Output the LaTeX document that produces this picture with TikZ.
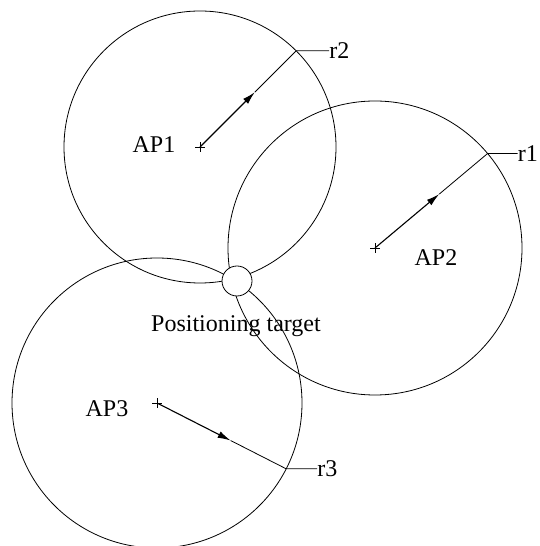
\documentclass[tikz,border=0pt]{standalone}
\usepackage{fontspec}
\setmainfont{Liberation Serif}
\usetikzlibrary{calc,arrows.meta}

\begin{document}
\begin{tikzpicture}
    [x=1pt, y=1pt,
    every node/.style={font=\fontsize{24}{28}\selectfont},
    range/.style={circle, draw, line width=0.8pt, minimum size=#1, inner sep=0pt, outer sep=0pt},
    radius arrow/.style={line width=1.1pt, -{Latex[length=13pt,width=7pt]}},
    radius line/.style={line width=0.8pt},
    label text/.style={inner sep=0pt, anchor=west}
    ]
    \useasboundingbox (0,0) rectangle (539,546);

    % access points
    \coordinate (ap1) at (200,399);
    \coordinate (ap2) at (375,298);
    \coordinate (ap3) at (157,143);

    \node[range=272pt] (c1) at (ap1) {};
    \node[range=294pt] (c2) at (ap2) {};
    \node[range=290pt] (c3) at (ap3) {};
    \node[range=30pt, fill=white] (target) at (237,265) {};

    \foreach \p in {ap1,ap2,ap3}
        \draw[line width=0.8pt] (\p) ++(-5,0) -- ++(10,0) (\p) ++(0,-5) -- ++(0,10);

    \node[anchor=base] (ap1lbl) at (154,393) {AP1};
    \node[anchor=base] (ap2lbl) at (436,280) {AP2};
    \node[anchor=base] (ap3lbl) at (107,129) {AP3};
    \node[anchor=base] (tgtlbl) at (236,214) {Positioning target};

    % radii
    \node[label text] (r2) at ($(c1.45)+(33,0)$) {r2};
    \node[label text] (r1) at ($(c2.40)+(30,0)$) {r1};
    \node[label text] (r3) at ($(c3.-27)+(31,0)$) {r3};

    \coordinate (m1) at ($(ap1)!0.57!(c1.45)$);
    \coordinate (m2) at ($(ap2)!0.57!(c2.40)$);
    \coordinate (m3) at ($(ap3)!0.57!(c3.-27)$);

    \draw[radius arrow] (ap1) -- (m1);
    \draw[radius arrow] (ap2) -- (m2);
    \draw[radius arrow] (ap3) -- (m3);
    \draw[radius line] (m1) -- (c1.45) -- (r2.west);
    \draw[radius line] (m2) -- (c2.40) -- (r1.west);
    \draw[radius line] (m3) -- (c3.-27) -- (r3.west);
\end{tikzpicture}
\end{document}
